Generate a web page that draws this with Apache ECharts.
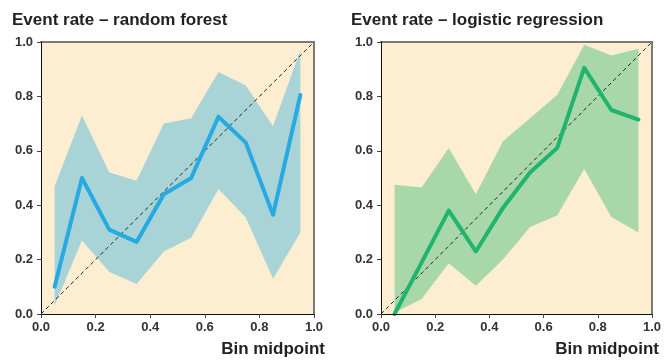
<!DOCTYPE html>
<html><head><meta charset="utf-8">
<script src="https://cdn.jsdelivr.net/npm/echarts@6/dist/echarts.min.js"></script>
<style>html,body{margin:0;padding:0;background:#fff}#c{width:664px;height:361px}</style>
</head><body><div id="c"></div>
<script>
const binMid = [0.05,0.15,0.25,0.35,0.45,0.55,0.65,0.75,0.85,0.95];
const tickLabels = [0,0.2,0.4,0.6,0.8,1.0];
const rfRate  = [0.10,0.50,0.31,0.265,0.44,0.50,0.725,0.63,0.365,0.805];
const rfUpper = [0.47,0.73,0.52,0.49,0.70,0.72,0.89,0.84,0.69,0.97];
const rfLower = [0.03,0.27,0.155,0.11,0.23,0.28,0.46,0.355,0.13,0.30];
const lrRate  = [0.0,0.19,0.38,0.23,0.39,0.52,0.61,0.905,0.75,0.715];
const lrUpper = [0.475,0.465,0.61,0.44,0.635,0.72,0.805,0.99,0.95,0.975];
const lrLower = [0.005,0.055,0.187,0.104,0.20,0.32,0.362,0.533,0.357,0.30];
const titles = ['Event rate – random forest','Event rate – logistic regression'];
const xTitle = 'Bin midpoint';

const FONT = 'Liberation Sans, Arial, sans-serif';
const chart = echarts.init(document.getElementById('c'));
const grids = [{left:41,top:42,width:273,height:272},{left:381,top:42,width:272,height:272}];
const gridOpts=[], xAxes=[], yAxes=[], series=[];
const sets = [
  {rate:rfRate,up:rfUpper,lo:rfLower,band:'#a8d4d7',line:'#27aae1'},
  {rate:lrRate,up:lrUpper,lo:lrLower,band:'#a8d8a9',line:'#21b46f'}
];
const fmt = v => v.toFixed(1);
sets.forEach((s,i)=>{
  gridOpts.push(Object.assign({show:true,backgroundColor:'#fdeed2',borderWidth:0,containLabel:false},grids[i]));
  xAxes.push({type:'value',gridIndex:i,min:0,max:1,interval:0.2,position:'bottom',
    axisLine:{show:true,onZero:false,lineStyle:{color:'#111',width:1}},
    axisTick:{show:true,length:4,lineStyle:{color:'#444'}},
    axisLabel:{margin:7,fontSize:13,fontWeight:'bold',color:'#333',fontFamily:FONT,formatter:fmt},
    splitLine:{show:false},z:5});
  xAxes.push({type:'value',gridIndex:i,min:0,max:1,position:'top',
    axisLine:{show:true,onZero:false,lineStyle:{color:'#7d7a72',width:2}},
    axisTick:{show:false},axisLabel:{show:false},splitLine:{show:false}});
  yAxes.push({type:'value',gridIndex:i,min:0,max:1,interval:0.2,position:'left',
    axisLine:{show:true,onZero:false,lineStyle:{color:'#111',width:1}},
    axisTick:{show:true,length:4,lineStyle:{color:'#444'}},
    axisLabel:{margin:8,fontSize:13,fontWeight:'bold',color:'#333',fontFamily:FONT,formatter:fmt},
    splitLine:{show:false},z:5});
  yAxes.push({type:'value',gridIndex:i,min:0,max:1,position:'right',
    axisLine:{show:true,onZero:false,lineStyle:{color:'#7d7a72',width:2}},
    axisTick:{show:false},axisLabel:{show:false},splitLine:{show:false}});
  const xi = i*2, yi = i*2;
  const bandData = binMid.map((x,k)=>[x,s.lo[k],s.up[k]]);
  series.push({type:'custom',xAxisIndex:xi,yAxisIndex:yi,silent:true,z:1,
    data:bandData, encode:{x:0,y:[1,2]},
    renderItem:(params,api)=>{
      if(params.dataIndex!==0) return null;
      const pts=[];
      bandData.forEach(d=>pts.push(api.coord([d[0],d[2]])));
      for(let k=bandData.length-1;k>=0;k--) pts.push(api.coord([bandData[k][0],bandData[k][1]]));
      return {type:'polygon',shape:{points:pts},style:{fill:s.band}};
    }});
  series.push({type:'line',xAxisIndex:xi,yAxisIndex:yi,symbol:'none',silent:true,
    lineStyle:{color:'#222',width:1,type:[4,3]},data:[[0,0],[1,1]],z:3});
  series.push({type:'line',xAxisIndex:xi,yAxisIndex:yi,symbol:'none',silent:true,
    lineStyle:{color:s.line,width:4,cap:'round',join:'round'},data:binMid.map((x,k)=>[x,s.rate[k]]),z:4});
});
const tStyle = {fontSize:17,fontWeight:'bold',color:'#222',fontFamily:FONT};
chart.setOption({
  animation:false,
  title:[
    {text:titles[0],left:12,top:12,textStyle:tStyle,padding:0},
    {text:titles[1],left:351,top:12,textStyle:tStyle,padding:0},
    {text:xTitle,right:339,top:341,textStyle:tStyle,padding:0},
    {text:xTitle,right:5,top:341,textStyle:tStyle,padding:0}
  ],
  grid:gridOpts, xAxis:xAxes, yAxis:yAxes, series:series
});
</script></body></html>
